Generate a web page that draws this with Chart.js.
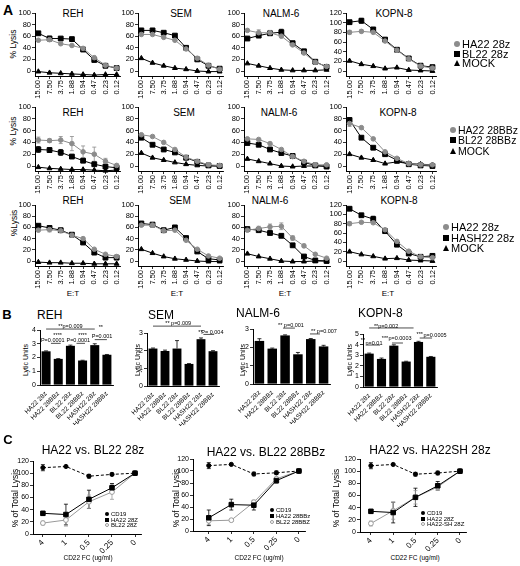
<!DOCTYPE html>
<html>
<head>
<meta charset="utf-8">
<script src="https://cdn.jsdelivr.net/npm/chart.js@4.4.0/dist/chart.umd.min.js"></script>
<style>
  body { margin: 0; background: #fff; width: 520px; height: 566px; position: relative; overflow: hidden;
         font-family: "Liberation Sans", Arial, Helvetica, sans-serif; color: #000; }
  canvas { position: absolute; }
  .t { position: absolute; white-space: nowrap; line-height: 1; }
</style>
</head>
<body>
<script>
// ---- data ----
const etLabels = ["15.00", "7.50", "3.75", "1.88", "0.94", "0.47", "0.23", "0.12"];
const yTicks100 = [0, 20, 40, 60, 80, 100];
const yTicks120 = [0, 20, 40, 60, 80, 100, 120];

// row 1: HA22 28z / BL22 28z / MOCK
const r1_REH_HA22 = [53, 54, 47, 44, 39, 23, 10, 5];
const r1_REH_BL22 = [65, 56, 56, 55, 37, 19, 9, 5];
const r1_REH_BL22_err = [0, 4, 0, 0, 0, 0, 0, 0];
const r1_REH_MOCK = [-1, -3, -4, -5, -6, -7, -6, -6];
const r1_SEM_HA22 = [63, 63, 58, 53, 38, 22, 10, 3];
const r1_SEM_BL22 = [70, 70, 66, 61, 40, 20, 9, 4];
const r1_SEM_MOCK = [22, 14, 9, 5, 3, 0, -1, -1];
const r1_NALM_HA22 = [70, 66, 66, 60, 45, 31, 15, 8];
const r1_NALM_HA22_err = [0, 5, 4, 0, 0, 0, 0, 0];
const r1_NALM_BL22 = [56, 61, 65, 67, 48, 34, 16, 7];
const r1_NALM_BL22_err = [0, 0, 0, 5, 0, 0, 0, 0];
const r1_NALM_MOCK = [13, 9, 5, 2, 1, 1, 1, 2];
const r1_KOPN_HA22 = [80, 82, 80, 62, 43, 25, 10, 6];
const r1_KOPN_HA22_err = [4, 3, 0, 0, 0, 0, 0, 0];
const r1_KOPN_BL22 = [101, 104, 86, 65, 44, 26, 11, 8];
const r1_KOPN_BL22_err = [0, 5, 3, 0, 0, 0, 0, 0];
const r1_KOPN_MOCK = [21, 14, 10, 5, 7, 2, 1, 0];

// row 2: HA22 28BBz / BL22 28BBz / MOCK
const r2_REH_HA22 = [44, 43, 44, 38, 24, 20, 8, 1];
const r2_REH_HA22_err = [5, 3, 6, 12, 10, 12, 5, 2];
const r2_REH_BL22 = [28, 27, 23, 16, 9, 3, -1, -3];
const r2_REH_BL22_err = [5, 4, 5, 3, 3, 2, 3, 2];
const r2_REH_MOCK = [-2, -4, -5, -6, -6, -7, -8, -7];
const r2_SEM_HA22 = [53, 50, 40, 28, 15, 8, 2, 1];
const r2_SEM_BL22 = [48, 36, 28, 23, 14, 7, 1, 0];
const r2_SEM_MOCK = [22, 14, 10, 6, 3, 1, 0, 0];
const r2_NALM_HA22 = [46, 45, 38, 28, 16, 8, 2, 2];
const r2_NALM_BL22 = [39, 36, 28, 22, 17, 6, 1, -1];
const r2_NALM_MOCK = [12, 8, 4, 0, -1, 0, 0, 0];
const r2_KOPN_HA22 = [72, 65, 46, 24, 13, 4, 2, 2];
const r2_KOPN_HA22_err = [5, 0, 0, 0, 0, 0, 0, 0];
const r2_KOPN_BL22 = [78, 48, 31, 20, 10, 3, 1, 0];
const r2_KOPN_MOCK = [20, 14, 10, 4, 7, 4, 3, 2];

// row 3: HA22 28z / HASH22 28z / MOCK
const r3_REH_HA22 = [55, 56, 54, 46, 40, 21, 12, 8];
const r3_REH_HA22_err = [0, 4, 0, 0, 0, 0, 0, 0];
const r3_REH_HASH = [63, 59, 55, 47, 33, 15, 6, 6];
const r3_REH_MOCK = [-2, -3, -3, -4, -4, -5, -5, -5];
const r3_SEM_HA22 = [64, 64, 54, 55, 37, 21, 9, 5];
const r3_SEM_HASH = [67, 65, 55, 60, 41, 17, 4, 2];
const r3_SEM_HASH_err = [0, 0, 0, 3, 0, 0, 0, 0];
const r3_SEM_MOCK = [21, 14, 8, 4, 2, 0, -1, -1];
const r3_NALM_HA22 = [55, 58, 61, 62, 41, 27, 12, 5];
const r3_NALM_HA22_err = [2, 4, 5, 6, 4, 3, 2, 1];
const r3_NALM_HASH = [57, 55, 50, 45, 28, 8, 1, 0];
const r3_NALM_MOCK = [13, 8, 4, 0, -1, -1, 0, 0];
const r3_KOPN_HA22 = [80, 83, 82, 67, 42, 21, 9, 7];
const r3_KOPN_HA22_err = [4, 0, 0, 0, 0, 0, 0, 0];
const r3_KOPN_HASH = [112, 98, 90, 64, 35, 16, 9, 11];
const r3_KOPN_HASH_err = [0, 0, 6, 0, 0, 0, 0, 0];
const r3_KOPN_MOCK = [20, 14, 10, 5, 6, 2, 1, 0];

// panel B: lytic units
const lyticLabels = ["HA22 28z", "HA22 28BBz", "BL22 28z", "BL22 28BBz", "HASH22 28z", "HASH22 28BBz"];
const lu_REH = [2.45, 1.9, 2.85, 1.78, 2.9, 2.2];
const lu_REH_err = [0.03, 0.02, 0.05, 0.02, 0.1, 0.02];
const lu_SEM = [2.12, 1.98, 2.12, 1.25, 2.65, 1.97];
const lu_SEM_err = [0.03, 0.05, 0.45, 0.02, 0.07, 0.03];
const lu_NALM = [2.35, 1.93, 2.65, 1.62, 2.45, 2.05];
const lu_NALM_err = [0.12, 0.03, 0.03, 0.1, 0.03, 0.06];
const lu_KOPN = [3.15, 2.65, 3.9, 2.4, 4.25, 2.85];
const lu_KOPN_err = [0.05, 0.08, 0.08, 0.03, 0.06, 0.03];

// panel C: % of total lysis vs CD22 FC
const fcLabels = ["4", "1", "0.5", "0.25", "0"];
const c1_CD19 = [109, 111, 95, 98, 100];
const c1_CD19_err = [5, 0, 3, 2, 0];
const c1_HA22 = [34, 32, 57, 76, 100];
const c1_HA22_err = [3, 17, 15, 7, 0];
const c1_BL22 = [18, 23, 53, 69, 100];
const c1_BL22_err = [3, 10, 11, 12, 0];
const c2_CD19 = [109, 111, 95, 97, 100];
const c2_CD19_err = [5, 0, 3, 3, 0];
const c2_HA22 = [22, 44, 43, 84, 100];
const c2_HA22_err = [13, 9, 8, 4, 0];
const c2_BL22 = [17, 18, 48, 87, 100];
const c2_BL22_err = [6, 0, 3, 3, 0];
const c3_CD19 = [109, 111, 95, 97, 100];
const c3_CD19_err = [5, 0, 3, 3, 0];
const c3_HA22 = [34, 32, 57, 76, 100];
const c3_HA22_err = [3, 17, 15, 7, 0];
const c3_HASH = [14, 35, 57, 74, 100];
const c3_HASH_err = [4, 14, 11, 5, 0];

// ---- helpers ----
Chart.defaults.font.family = '"Liberation Sans", Arial, Helvetica, sans-serif';
Chart.defaults.color = "#000";
const GRAY = "#8c8c8c";
const LGRAY = "#9a9a9a";

const styles = {
  gray:  { color: GRAY, pointStyle: "circle", r: 2.3 },
  black: { color: "#000", pointStyle: "rect", r: 3.4 },
  mock:  { color: "#000", pointStyle: "triangle", r: 2.8 },
  cd19:  { color: "#000", pointStyle: "circle", r: 2.1, dash: [3, 2] },
  sq:    { color: "#000", pointStyle: "rect", r: 3.2 },
  open:  { color: LGRAY, fill: "#fff", pointStyle: "circle", r: 2.4 },
};

function txt(s, x, y, size, o = {}) {
  const d = document.createElement("div");
  d.className = "t";
  d.textContent = s;
  d.style.left = x + "px";
  d.style.top = y + "px";
  d.style.fontSize = size + "px";
  if (o.bold) d.style.fontWeight = "bold";
  let tf = o.left ? "translate(0,-50%)" : "translate(-50%,-50%)";
  if (o.rot) tf += " rotate(-90deg)";
  d.style.transform = tf;
  document.body.appendChild(d);
}

function mark(shape, x, y, size, color, fill) {
  const m = document.createElement("div");
  m.style.position = "absolute";
  m.style.left = (x - size / 2) + "px";
  m.style.top = (y - size / 2) + "px";
  if (shape === "triangle") {
    m.style.width = "0px";
    m.style.height = "0px";
    m.style.borderLeft = (size / 2) + "px solid transparent";
    m.style.borderRight = (size / 2) + "px solid transparent";
    m.style.borderBottom = size + "px solid " + color;
  } else {
    m.style.width = size + "px";
    m.style.height = size + "px";
    m.style.boxSizing = "border-box";
    m.style.background = fill || color;
    if (fill) m.style.border = "1px solid " + color;
    if (shape === "circle") m.style.borderRadius = "50%";
  }
  document.body.appendChild(m);
}

function legend(x, ys, size, msize, items) {
  items.forEach((it, i) => {
    const st = styles[it.s];
    mark(st.pointStyle, x, ys[i], msize, st.color, st.fill);
    txt(it.t, x + msize / 2 + 2, ys[i], size, { left: true });
  });
}

// error bars drawn through the chart's own scales
const errorBars = {
  id: "errorBars",
  beforeDatasetsDraw(chart) { if (chart.config.type === "line") this.draw(chart, true); },
  afterDatasetsDraw(chart) { if (chart.config.type === "bar") this.draw(chart, false); },
  draw(chart, both) {
    const ctx = chart.ctx, ys = chart.scales.y;
    chart.data.datasets.forEach((ds, di) => {
      if (!ds.errors) return;
      const meta = chart.getDatasetMeta(di);
      ctx.save();
      ctx.strokeStyle = ds.borderColor;
      ctx.lineWidth = 0.8;
      meta.data.forEach((el, i) => {
        const e = ds.errors[i];
        if (!e) return;
        const raw = ds.data[i];
        const v = typeof raw === "object" ? raw.y : raw;
        const x = el.x, hi = ys.getPixelForValue(v + e), lo = ys.getPixelForValue(both ? v - e : v);
        ctx.beginPath();
        ctx.moveTo(x, lo); ctx.lineTo(x, hi);
        ctx.moveTo(x - 2, hi); ctx.lineTo(x + 2, hi);
        if (both) { ctx.moveTo(x - 2, lo); ctx.lineTo(x + 2, lo); }
        ctx.stroke();
      });
      ctx.restore();
    });
  }
};

function notesPlugin(notes) {
  return {
    id: "notes",
    afterDatasetsDraw(chart) {
      const ctx = chart.ctx, xs = chart.scales.x, ys = chart.scales.y;
      ctx.save();
      ctx.fillStyle = "#000";
      ctx.strokeStyle = "#000";
      ctx.lineWidth = 0.7;
      ctx.font = '5.5px "Liberation Sans", Arial';
      ctx.textAlign = "center";
      ctx.textBaseline = "middle";
      notes.forEach(n => {
        if (n.line) {
          const y = ys.getPixelForValue(n.line[2]);
          ctx.beginPath();
          ctx.moveTo(xs.getPixelForValue(n.line[0]), y);
          ctx.lineTo(xs.getPixelForValue(n.line[1]), y);
          ctx.stroke();
        } else {
          ctx.fillText(n.text, xs.getPixelForValue(n.x), ys.getPixelForValue(n.y));
        }
      });
      ctx.restore();
    }
  };
}

function makeCanvas(g) {
  const cv = document.createElement("canvas");
  const w = g.padL + g.yW + g.plotW + g.padR, h = g.padT + g.plotH + g.xH;
  cv.width = w; cv.height = h;
  cv.style.width = w + "px"; cv.style.height = h + "px";
  cv.style.left = (g.x - g.yW - g.padL) + "px";
  cv.style.top = (g.top - g.padT) + "px";
  document.body.appendChild(cv);
  return cv;
}

function axisCommon(g, horiz, fontSize) {
  return {
    grid: { drawOnChartArea: false, drawTicks: true, tickLength: 3, color: "#000", lineWidth: 0.8 },
    border: { color: "#000", width: 1 },
    ticks: { font: { size: fontSize }, padding: 1, color: "#000", autoSkip: false },
    afterFit: horiz
      ? s => { s.height = g.xH; s.paddingLeft = 0; s.paddingRight = 0; }
      : s => { s.width = g.yW; s.paddingTop = 0; s.paddingBottom = 0; },
  };
}

function lineSet(s) {
  const st = styles[s.s];
  return {
    data: s.data.map((v, i) => ({ x: i, y: v })),
    errors: s.err,
    borderColor: st.color,
    backgroundColor: st.fill || st.color,
    pointBackgroundColor: st.fill || st.color,
    pointBorderColor: st.color,
    pointStyle: st.pointStyle,
    pointRadius: st.r,
    pointBorderWidth: 1,
    borderWidth: 1,
    borderDash: st.dash || [],
    clip: false,
  };
}

function lineChart(g, labels, yTicks, sets, xFont, rot) {
  const cv = makeCanvas(g);
  const x = axisCommon(g, true, xFont);
  x.type = "linear";
  x.min = g.xMin; x.max = g.xMax;
  x.afterBuildTicks = s => { s.ticks = labels.map((l, i) => ({ value: i })); };
  x.ticks.callback = v => labels[v];
  x.ticks.minRotation = rot; x.ticks.maxRotation = rot;
  const y = axisCommon(g, false, g.yFont || 7.5);
  y.min = g.yMin; y.max = yTicks[yTicks.length - 1];
  y.afterBuildTicks = s => { s.ticks = yTicks.map(v => ({ value: v })); };
  new Chart(cv, {
    type: "line",
    data: { datasets: sets.map(lineSet) },
    options: {
      responsive: false, animation: false,
      layout: { padding: { top: g.padT, right: g.padR, left: g.padL, bottom: 0 } },
      plugins: { legend: { display: false }, tooltip: { enabled: false } },
      scales: { x, y },
    },
    plugins: [errorBars],
  });
}

// ---- panel A ----
const colsA = [{ x: 35, w: 85 }, { x: 138, w: 85 }, { x: 244, w: 86 }, { x: 346, w: 90 }];
const rowsA = [{ top: 13, zero: 71, bottom: 76 }, { top: 107, zero: 166, bottom: 171 }, { top: 205, zero: 261, bottom: 266 }];

function lysisChart(ci, ri, yTicks, sets) {
  const col = colsA[ci], row = rowsA[ri];
  const yMax = yTicks[yTicks.length - 1];
  const g = {
    x: col.x, top: row.top, plotW: col.w, plotH: row.bottom - row.top,
    yW: 22, xH: 24, padT: 6, padR: 6, padL: 0,
    xMin: -0.3, xMax: 7.3,
    yMin: -yMax * (row.bottom - row.zero) / (row.zero - row.top),
  };
  lineChart(g, etLabels, yTicks, sets, 7.5, 90);
}

txt("A", 8, 10, 14, { bold: true });
const aTitles = [
  [["REH", 73], ["SEM", 181], ["NALM-6", 281], ["KOPN-8", 394]],
  [["REH", 73], ["SEM", 184], ["NALM-6", 279], ["KOPN-8", 398]],
  [["REH", 73], ["SEM", 180], ["NALM-6", 270], ["KOPN-8", 399]],
];
const aTitleY = [14, 113, 201];
aTitles.forEach((r, ri) => r.forEach(([t, x]) => txt(t, x, aTitleY[ri], 10)));
txt("% Lysis", 13, 44, 8.5, { rot: true });
txt("% Lysis", 13, 131, 8.5, { rot: true });
txt("%Lysis", 14, 223, 8.5, { rot: true });
[73, 177, 285, 388].forEach(x => txt("E:T", x, 294, 8));

lysisChart(0, 0, yTicks100, [
  { data: r1_REH_HA22, s: "gray" }, { data: r1_REH_BL22, err: r1_REH_BL22_err, s: "black" }, { data: r1_REH_MOCK, s: "mock" }]);
lysisChart(1, 0, yTicks100, [
  { data: r1_SEM_HA22, s: "gray" }, { data: r1_SEM_BL22, s: "black" }, { data: r1_SEM_MOCK, s: "mock" }]);
lysisChart(2, 0, yTicks100, [
  { data: r1_NALM_HA22, err: r1_NALM_HA22_err, s: "gray" }, { data: r1_NALM_BL22, err: r1_NALM_BL22_err, s: "black" }, { data: r1_NALM_MOCK, s: "mock" }]);
lysisChart(3, 0, yTicks120, [
  { data: r1_KOPN_HA22, err: r1_KOPN_HA22_err, s: "gray" }, { data: r1_KOPN_BL22, err: r1_KOPN_BL22_err, s: "black" }, { data: r1_KOPN_MOCK, s: "mock" }]);

lysisChart(0, 1, yTicks100, [
  { data: r2_REH_HA22, err: r2_REH_HA22_err, s: "gray" }, { data: r2_REH_BL22, err: r2_REH_BL22_err, s: "black" }, { data: r2_REH_MOCK, s: "mock" }]);
lysisChart(1, 1, yTicks100, [
  { data: r2_SEM_HA22, s: "gray" }, { data: r2_SEM_BL22, s: "black" }, { data: r2_SEM_MOCK, s: "mock" }]);
lysisChart(2, 1, yTicks100, [
  { data: r2_NALM_HA22, s: "gray" }, { data: r2_NALM_BL22, s: "black" }, { data: r2_NALM_MOCK, s: "mock" }]);
lysisChart(3, 1, yTicks100, [
  { data: r2_KOPN_HA22, err: r2_KOPN_HA22_err, s: "gray" }, { data: r2_KOPN_BL22, s: "black" }, { data: r2_KOPN_MOCK, s: "mock" }]);

lysisChart(0, 2, yTicks100, [
  { data: r3_REH_HA22, err: r3_REH_HA22_err, s: "gray" }, { data: r3_REH_HASH, s: "black" }, { data: r3_REH_MOCK, s: "mock" }]);
lysisChart(1, 2, yTicks100, [
  { data: r3_SEM_HA22, s: "gray" }, { data: r3_SEM_HASH, err: r3_SEM_HASH_err, s: "black" }, { data: r3_SEM_MOCK, s: "mock" }]);
lysisChart(2, 2, yTicks100, [
  { data: r3_NALM_HA22, err: r3_NALM_HA22_err, s: "gray" }, { data: r3_NALM_HASH, s: "black" }, { data: r3_NALM_MOCK, s: "mock" }]);
lysisChart(3, 2, yTicks120, [
  { data: r3_KOPN_HA22, err: r3_KOPN_HA22_err, s: "gray" }, { data: r3_KOPN_HASH, err: r3_KOPN_HASH_err, s: "black" }, { data: r3_KOPN_MOCK, s: "mock" }]);

legend(457, [44, 54, 63], 11, 6, [{ t: "HA22 28z", s: "gray" }, { t: "BL22 28z", s: "black" }, { t: "MOCK", s: "mock" }]);
legend(453, [130, 140, 151], 10.5, 6, [{ t: "HA22 28BBz", s: "gray" }, { t: "BL22 28BBz", s: "black" }, { t: "MOCK", s: "mock" }]);
legend(446, [227, 238, 248], 11, 6, [{ t: "HA22 28z", s: "gray" }, { t: "HASH22 28z", s: "black" }, { t: "MOCK", s: "mock" }]);

// ---- panel B ----
txt("B", 7, 314, 13, { bold: true });
txt("REH", 37, 315, 12, { left: true });
txt("SEM", 148, 315, 12, { left: true });
txt("NALM-6", 236, 313, 12, { left: true });
txt("KOPN-8", 358, 313, 12, { left: true });
[25, 137, 242, 349].forEach(x => txt("Lytic Units", x, 360, 7, { rot: true }));

function lyticChart(b, vals, errs, notes) {
  const yTicks = [];
  for (let v = 0; v <= b.yMax; v++) yTicks.push(v);
  const g = { x: b.x, top: b.top, plotW: b.w, plotH: b.bottom - b.top, yW: 14, xH: 40, padT: 16, padR: 16, padL: 16 };
  const cv = makeCanvas(g);
  const x = axisCommon(g, true, 6.5);
  x.grid.display = false;
  x.ticks.minRotation = 45; x.ticks.maxRotation = 45; x.ticks.padding = 2;
  const y = axisCommon(g, false, 7);
  y.min = 0; y.max = b.yMax;
  y.afterBuildTicks = s => { s.ticks = yTicks.map(v => ({ value: v })); };
  new Chart(cv, {
    type: "bar",
    data: { labels: lyticLabels, datasets: [{ data: vals, errors: errs, backgroundColor: "#000", borderColor: "#000", barPercentage: 0.74, categoryPercentage: 1 }] },
    options: {
      responsive: false, animation: false,
      layout: { padding: { top: g.padT, right: g.padR, left: g.padL, bottom: 0 } },
      plugins: { legend: { display: false }, tooltip: { enabled: false } },
      scales: { x, y },
    },
    plugins: [errorBars, notesPlugin(notes)],
  });
}

lyticChart({ x: 40, w: 73, top: 330, bottom: 385, yMax: 4 }, lu_REH, lu_REH_err, [
  { text: "**p=0.009", x: 2, y: 4.22 }, { line: [0, 4, 4.07] },
  { text: "****", x: 0.95, y: 3.62 }, { text: "P=0.0001", x: 0.55, y: 3.22 }, { line: [0.4, 1.2, 3.03] },
  { text: "****", x: 3.0, y: 3.62 }, { text: "P=0.0001", x: 2.65, y: 3.22 }, { line: [2.5, 3.2, 3.03] },
  { text: "**", x: 4.5, y: 4.15 }, { text: "P=0.001", x: 4.6, y: 3.55 }, { line: [4, 5, 3.3] },
]);
lyticChart({ x: 147, w: 72, top: 333, bottom: 386, yMax: 3 }, lu_SEM, lu_SEM_err, [
  { text: "** p=0.009", x: 2.1, y: 3.52 }, { line: [0, 4, 3.39] },
  { text: "**", x: 3.95, y: 3.05 }, { text: "P= 0.004", x: 4.95, y: 3.05 }, { line: [4.2, 5.1, 2.92] },
]);
lyticChart({ x: 253, w: 77, top: 329, bottom: 384, yMax: 3 }, lu_NALM, lu_NALM_err, [
  { text: "** p=0.001", x: 2.46, y: 3.2 }, { line: [1.84, 2.77, 3.05] },
  { text: "** p=0.007", x: 5.03, y: 2.84 }, { line: [3.94, 4.72, 2.73] },
]);
lyticChart({ x: 363, w: 74, top: 334, bottom: 387, yMax: 5 }, lu_KOPN, lu_KOPN_err, [
  { text: "**p=0.002", x: 1.37, y: 5.75 }, { line: [0, 3.6, 5.57] },
  { text: "**", x: -0.5, y: 4.43 }, { text: "p=0.01", x: 0.39, y: 4.15 }, { line: [-0.18, 0.88, 3.96] },
  { text: "***", x: 1.28, y: 4.62 }, { text: "p=0.0003", x: 2.5, y: 4.53 }, { line: [1.85, 2.74, 4.15] },
  { text: "***", x: 4.1, y: 5.0 }, { text: "p=0.0005", x: 5.34, y: 4.9 }, { line: [4.1, 5.1, 4.62] },
]);

// ---- panel C ----
txt("C", 8, 439, 13, { bold: true });
txt("HA22 vs. BL22 28z", 93, 450, 12);
txt("HA22 vs. BL22 28BBz", 266, 452, 12);
txt("HA22 vs.  HA22SH 28z", 430, 450, 12);
[15, 176, 336].forEach(x => txt("% of Total Lysis", x, 498, 8.5, { rot: true }));
[[88, 558], [259, 558], [415, 558]].forEach(([x, y]) => txt("CD22 FC (ug/ml)", x, y, 6.5));

function fcChart(c, sets) {
  const g = {
    x: c.x, top: c.top, plotW: c.w, plotH: c.bottom - c.top,
    yW: 18, xH: 20, padT: 6, padR: 6, padL: 0,
    xMin: c.xMin, xMax: c.xMax, yMin: 0, yFont: 7,
  };
  lineChart(g, fcLabels, yTicks120, sets, 8, 45);
}

fcChart({ x: 33, w: 108, top: 461, bottom: 534, xMin: -0.43, xMax: 4.26 }, [
  { data: c1_CD19, err: c1_CD19_err, s: "cd19" }, { data: c1_HA22, err: c1_HA22_err, s: "sq" }, { data: c1_BL22, err: c1_BL22_err, s: "open" }]);
fcChart({ x: 193, w: 112, top: 459, bottom: 531, xMin: -0.7, xMax: 4.27 }, [
  { data: c2_CD19, err: c2_CD19_err, s: "cd19" }, { data: c2_HA22, err: c2_HA22_err, s: "sq" }, { data: c2_BL22, err: c2_BL22_err, s: "open" }]);
fcChart({ x: 360, w: 106, top: 459, bottom: 532, xMin: -0.49, xMax: 4.27 }, [
  { data: c3_CD19, err: c3_CD19_err, s: "cd19" }, { data: c3_HA22, err: c3_HA22_err, s: "sq" }, { data: c3_HASH, err: c3_HASH_err, s: "open" }]);

legend(107, [514, 519.5, 525], 6, 4, [{ t: "CD19", s: "cd19" }, { t: "HA22 28Z", s: "sq" }, { t: "BL22 28Z", s: "open" }]);
legend(272, [510, 516, 522], 6, 4, [{ t: "CD19", s: "cd19" }, { t: "HA22 28BBz", s: "sq" }, { t: "BL22 28BBZ", s: "open" }]);
legend(423, [513, 518.5, 524], 6, 4, [{ t: "CD19", s: "cd19" }, { t: "HA22 28Z", s: "sq" }, { t: "HA22-SH 28Z", s: "open" }]);
</script>
</body>
</html>
